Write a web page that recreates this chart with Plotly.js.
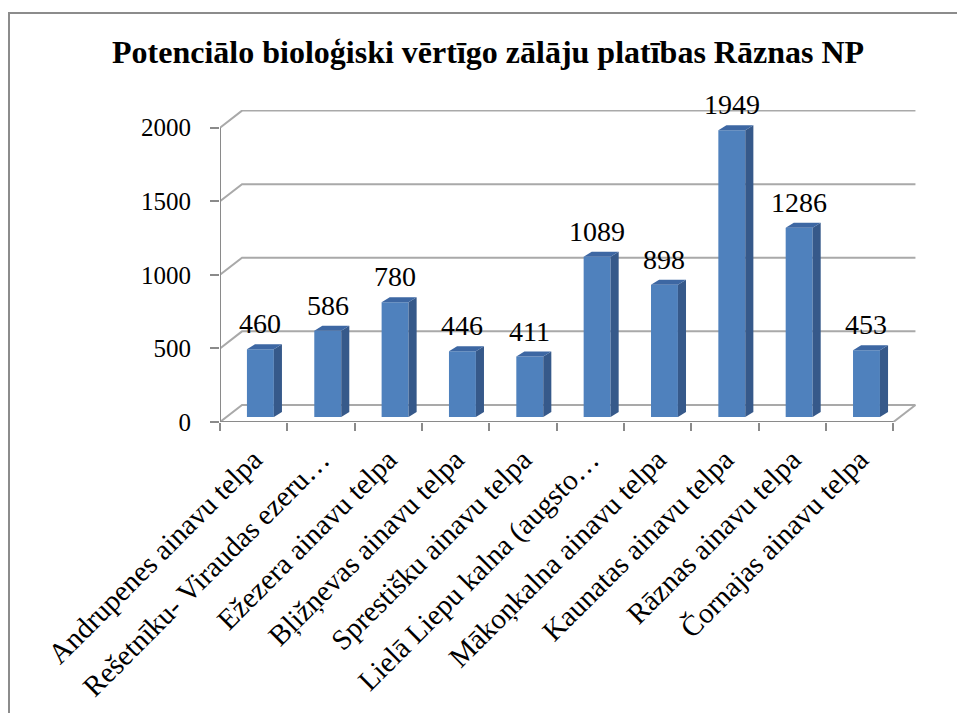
<!DOCTYPE html>
<html>
<head>
<meta charset="utf-8">
<script src="https://cdn.plot.ly/plotly-3.0.1.min.js"></script>
<style>
  html, body { margin: 0; padding: 0; background: #ffffff; }
  #chart { width: 957px; height: 713px; }
</style>
</head>
<body>
<div id="chart"></div>
<script>
// Chart values
const categories = [
  "Andrupenes ainavu telpa",
  "Rešetnīku- Viraudas ezeru…",
  "Ežezera ainavu telpa",
  "Bļižņevas ainavu telpa",
  "Sprestišku ainavu telpa",
  "Lielā Liepu kalna (augsto…",
  "Mākoņkalna ainavu telpa",
  "Kaunatas ainavu telpa",
  "Rāznas ainavu telpa",
  "Čornajas ainavu telpa"
];
const areas = [460, 586, 780, 446, 411, 1089, 898, 1949, 1286, 453];
const yTicks = [0, 500, 1000, 1500, 2000];

const chartTitle = "Potenciālo bioloģiski vērtīgo zālāju platības Rāznas NP";

// Fake 3D depth (in axis units)
const WALL_DX = 0.327;   // back wall shift to the right
const WALL_DY = 116;     // back wall shift upwards
const BAR_LIFT = 34;     // bars stand in the middle of the floor
const BAR_W = 0.40;
const BAR_OFF = -0.10;
const SIDE_DX = 0.12;
const SIDE_DY = 34;

const FONT = "Liberation Serif, Times New Roman, serif";
const GRID = "#a9a9a9";
const AXIS = "#8a8a8a";

const idx = categories.map((_, i) => i);
const left = -0.5;
const right = categories.length - 0.5;

// Back wall grid lines + left wall diagonals
function wallShapes() {
  const shapes = yTicks.map(v => ({
    type: "path",
    xref: "x", yref: "y",
    layer: "below",
    path: `M ${left},${v} L ${left + WALL_DX},${v + WALL_DY} L ${right + WALL_DX},${v + WALL_DY}`,
    line: { color: GRID, width: 2 }
  }));
  // floor right edge
  shapes.push({
    type: "path", xref: "x", yref: "y", layer: "below",
    path: `M ${right},0 L ${right + WALL_DX},${WALL_DY}`,
    line: { color: GRID, width: 2 }
  });
  // front axes
  shapes.push({
    type: "line", xref: "x", yref: "y", layer: "above",
    x0: left, x1: right, y0: 0, y1: 0,
    line: { color: AXIS, width: 2 }
  });
  shapes.push({
    type: "line", xref: "x", yref: "y", layer: "above",
    x0: left, x1: left, y0: 0, y1: yTicks[yTicks.length - 1],
    line: { color: AXIS, width: 2 }
  });
  return shapes;
}

// Side and top faces of each bar
function barShapes() {
  const shapes = [];
  areas.forEach((v, i) => {
    const x0 = i + BAR_OFF;
    const x1 = x0 + BAR_W;
    const yb = BAR_LIFT;
    const yt = BAR_LIFT + v;
    shapes.push({
      type: "path", xref: "x", yref: "y", layer: "above",
      path: `M ${x1},${yb} L ${x1 + SIDE_DX},${yb + SIDE_DY} L ${x1 + SIDE_DX},${yt + SIDE_DY} L ${x1},${yt} Z`,
      fillcolor: "#36598a", line: { width: 0 }
    });
    shapes.push({
      type: "path", xref: "x", yref: "y", layer: "above",
      path: `M ${x0},${yt} L ${x0 + SIDE_DX},${yt + SIDE_DY} L ${x1 + SIDE_DX},${yt + SIDE_DY} L ${x1},${yt} Z`,
      fillcolor: "#3d67a3", line: { width: 0 }
    });
  });
  return shapes;
}

// Outer chart border (cut off at the right and bottom like the original)
const border = {
  type: "rect", xref: "paper", yref: "paper", layer: "below",
  x0: (9 - 220) / 697, x1: 2, y0: -2, y1: (422 - 13) / 312,
  line: { color: "#8c8c8c", width: 2 }, fillcolor: "rgba(0,0,0,0)"
};

const labels = areas.map((v, i) => ({
  x: i + BAR_OFF + BAR_W / 2,
  y: BAR_LIFT + v,
  xref: "x", yref: "y",
  text: String(v),
  showarrow: false,
  yanchor: "bottom",
  yshift: 8,
  font: { family: FONT, size: 28, color: "#000000" }
}));

const trace = {
  type: "bar",
  x: idx,
  y: areas,
  base: areas.map(() => BAR_LIFT),
  width: BAR_W,
  offset: BAR_OFF,
  marker: { color: "#4f81bd", line: { width: 0 } },
  hoverinfo: "skip",
  cliponaxis: false
};

const layout = {
  width: 957,
  height: 713,
  margin: { l: 220, r: 40, t: 110, b: 291 },
  paper_bgcolor: "#ffffff",
  plot_bgcolor: "#ffffff",
  showlegend: false,
  title: {
    text: chartTitle,
    font: { family: FONT, size: 32, color: "#000000", weight: "bold" },
    x: 0.51, xanchor: "center",
    y: 1 - 52 / 713, yanchor: "middle"
  },
  xaxis: {
    range: [left, right + 0.35],
    tickmode: "array",
    tickvals: idx,
    ticktext: categories,
    tickangle: -45,
    ticks: "",
    ticklabelstandoff: 14,
    showgrid: false,
    zeroline: false,
    showline: false,
    tickfont: { family: FONT, size: 29, color: "#000000" },
    minor: {
      tickmode: "array",
      tickvals: [...idx.map(i => i - 0.5), right],
      ticks: "outside",
      ticklen: 8,
      tickwidth: 2,
      tickcolor: AXIS,
      showgrid: false
    },
    fixedrange: true
  },
  yaxis: {
    range: [0, 2120],
    tickmode: "array",
    tickvals: yTicks,
    ticks: "outside",
    ticklen: 9,
    tickwidth: 2,
    tickcolor: AXIS,
    ticklabelstandoff: 14,
    showgrid: false,
    zeroline: false,
    showline: false,
    tickfont: { family: FONT, size: 25, color: "#000000" },
    fixedrange: true
  },
  shapes: [border, ...wallShapes(), ...barShapes()],
  annotations: labels
};

Plotly.newPlot("chart", [trace], layout, { displayModeBar: false, staticPlot: true });
</script>
</body>
</html>
